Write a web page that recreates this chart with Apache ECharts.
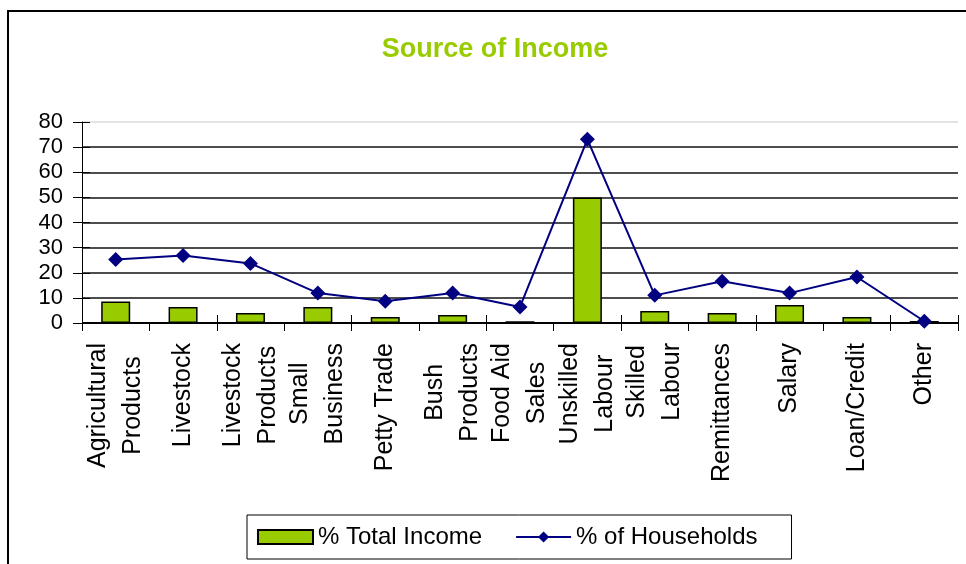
<!DOCTYPE html>
<html>
<head>
<meta charset="utf-8">
<title>Source of Income</title>
<script src="https://cdn.jsdelivr.net/npm/echarts@6/dist/echarts.min.js"></script>
<style>
  html, body { margin: 0; padding: 0; background: #fff; }
  #chart { width: 966px; height: 564px; }
</style>
</head>
<body>
<div id="chart"></div>
<script>
// Income sources (two-line names are split with \n)
const categories = [
  'Agricultural\nProducts', 'Livestock', 'Livestock\nProducts', 'Small\nBusiness',
  'Petty Trade', 'Bush\nProducts', 'Food Aid\nSales', 'Unskilled\nLabour',
  'Skilled\nLabour', 'Remittances', 'Salary', 'Loan/Credit', 'Other'
];
// Share of total income from each source (%)
const totalIncome = [8.6, 6.4, 4.0, 6.4, 2.4, 3.2, 0.7, 50.0, 4.8, 4.0, 7.2, 2.4, 0.8];
// Share of households reporting each source (%)
const households = [25.3, 26.9, 23.7, 11.9, 8.7, 11.9, 6.4, 73.1, 11.0, 16.6, 11.9, 18.3, 0.7];
// Value axis range
const yMin = 0, yMax = 80, yStep = 10;

const FONT = '"Liberation Sans", Arial, sans-serif';
const LABEL_SIZE = 25;

// grid line colours: darker for inner lines, faint at the top
const gridColors = ['#000', '#4d4d4d', '#4d4d4d', '#4d4d4d', '#4d4d4d', '#4d4d4d', '#4d4d4d', '#4d4d4d', '#e4e4e4'];

const chart = echarts.init(document.getElementById('chart'));
chart.setOption({
  animation: false,
  backgroundColor: '#fff',
  textStyle: { fontFamily: FONT },
  title: {
    text: 'Source of Income',
    left: 490,
    textAlign: 'center',
    top: 31,
    textStyle: { color: '#99CC00', fontSize: 27, fontWeight: 'bold', fontFamily: FONT }
  },
  graphic: [{
    type: 'rect',
    silent: true,
    shape: { x: 8, y: 11, width: 990, height: 600 },
    style: { fill: 'none', stroke: '#000', lineWidth: 2 }
  }],
  legend: {
    left: 247,
    top: 515,
    padding: [10, 34, 10, 10],
    itemWidth: 55,
    itemHeight: 14,
    itemGap: 33,
    borderColor: '#000',
    borderWidth: 1,
    textStyle: { fontSize: 24, color: '#000', fontFamily: FONT },
    data: [{ name: '% Total Income', icon: 'rect' }, { name: '% of Households' }]
  },
  grid: { left: 82, right: 8, top: 122, bottom: 241, containLabel: false },
  xAxis: [{
    type: 'category',
    data: categories,
    boundaryGap: true,
    axisLine: { show: true, lineStyle: { color: '#000', width: 1 } },
    axisTick: { show: true, length: 8, lineStyle: { color: '#000' } },
    axisLabel: {
      interval: 0,
      rotate: 90,
      margin: 20,
      color: '#000',
      fontSize: LABEL_SIZE,
      // each line is centred on the longest line of its label
      formatter: v => v.split('\n').map(s => '{c|' + s + '}').join('\n'),
      rich: { c: { fontSize: LABEL_SIZE, lineHeight: 35, align: 'center', color: '#000', fontFamily: FONT } }
    },
    splitLine: { show: false }
  }, {
    // inner half of the crossing tick marks
    type: 'category',
    data: categories,
    position: 'bottom',
    axisLine: { show: false },
    axisTick: { show: true, inside: true, length: 8, lineStyle: { color: '#000' } },
    axisLabel: { show: false },
    splitLine: { show: false }
  }],
  yAxis: [{
    type: 'value',
    min: yMin, max: yMax, interval: yStep,
    axisLine: { show: true, lineStyle: { color: '#000', width: 1 } },
    axisTick: { show: true, length: 9, lineStyle: { color: '#000' } },
    axisLabel: { margin: 19, color: '#000', fontSize: 22, fontFamily: FONT },
    splitLine: { show: true, lineStyle: { color: gridColors, width: 2 } }
  }, {
    type: 'value',
    position: 'left',
    min: yMin, max: yMax, interval: yStep,
    axisLine: { show: false },
    axisTick: { show: true, inside: true, length: 8, lineStyle: { color: '#000' } },
    axisLabel: { show: false },
    splitLine: { show: false }
  }],
  series: [{
    name: '% Total Income',
    type: 'bar',
    xAxisIndex: 0,
    yAxisIndex: 0,
    data: totalIncome,
    barWidth: 29,
    itemStyle: { color: '#99CC00', borderColor: '#000', borderWidth: 1.5 },
    z: 2
  }, {
    name: '% of Households',
    type: 'line',
    xAxisIndex: 0,
    yAxisIndex: 0,
    data: households,
    symbol: 'diamond',
    symbolSize: 15,
    lineStyle: { color: '#000080', width: 2 },
    itemStyle: { color: '#000080' },
    z: 3
  }]
});
</script>
</body>
</html>
